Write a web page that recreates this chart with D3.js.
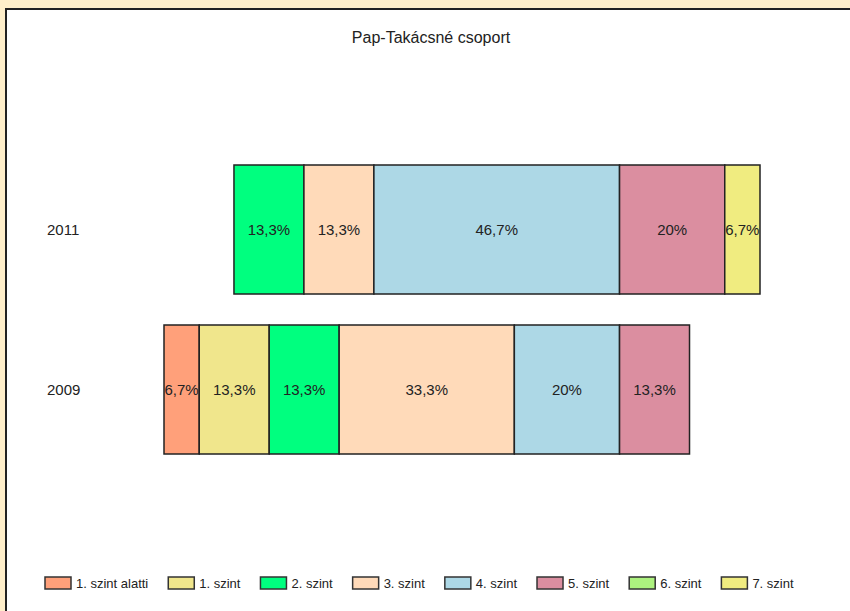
<!DOCTYPE html>
<html>
<head>
<meta charset="utf-8">
<script src="https://cdn.jsdelivr.net/npm/d3@7"></script>
<style>
html,body{margin:0;padding:0;background:#FFEFCA;}
svg{display:block;}
text{font-family:"Liberation Sans",Arial,sans-serif;}
</style>
</head>
<body>
<svg id="chart" width="850" height="611"></svg>
<script>
const title = "Pap-Takácsné csoport";
const years = ["2011", "2009"];
const levels = ["1. szint alatti", "1. szint", "2. szint", "3. szint", "4. szint", "5. szint", "6. szint", "7. szint"];
const colors = ["#FFA07A", "#F0E68C", "#00FF7F", "#FFDAB9", "#ADD8E6", "#DB8EA0", "#ADF27F", "#F0EC80"];
const values2011 = [0, 0, 13.3, 13.3, 46.7, 20, 0, 6.7];
const values2009 = [6.7, 13.3, 13.3, 33.3, 20, 13.3, 0, 0];
const labels2011 = ["", "", "13,3%", "13,3%", "46,7%", "20%", "", "6,7%"];
const labels2009 = ["6,7%", "13,3%", "13,3%", "33,3%", "20%", "13,3%", "", ""];
const splitIndex = 5; // levels before this go left of the centre line

const svg = d3.select("#chart");
svg.append("rect").attr("x", 6).attr("y", 9).attr("width", 850).attr("height", 610)
  .attr("fill", "#fff").attr("stroke", "#222").attr("stroke-width", 2);

svg.append("text").attr("x", 431).attr("y", 43).attr("text-anchor", "middle")
  .attr("font-size", 16).attr("fill", "#222").text(title);

const rows = [
  {year: "2011", values: values2011, labels: labels2011},
  {year: "2009", values: values2009, labels: labels2009}
];
rows.forEach(r => {
  r.segs = r.values.map((v, i) => ({v, i, label: r.labels[i]}));
  const left = d3.sum(r.values.slice(0, splitIndex));
  let start = -left;
  r.segs.forEach(s => { s.x0 = start; s.x1 = start + s.v; start = s.x1; });
});
const minX = d3.min(rows, r => r.segs[0].x0);
const maxX = d3.max(rows, r => r.segs[r.segs.length - 1].x1);
const x = d3.scaleLinear().domain([minX, maxX]).range([164, 760]);
const y = d3.scaleBand().domain(years).range([165, 454]).paddingInner(31 / 160).paddingOuter(0);

const g = svg.append("g");
rows.forEach(r => {
  const row = g.append("g");
  const segs = r.segs.filter(s => s.v > 0);
  row.selectAll("rect").data(segs).join("rect")
    .attr("x", s => x(s.x0)).attr("y", y(r.year))
    .attr("width", s => x(s.x1) - x(s.x0)).attr("height", y.bandwidth())
    .attr("fill", s => colors[s.i]).attr("stroke", "#222").attr("stroke-width", 1.5);
  row.selectAll("text").data(segs).join("text")
    .attr("x", s => (x(s.x0) + x(s.x1)) / 2).attr("y", y(r.year) + y.bandwidth() / 2 + 5)
    .attr("text-anchor", "middle").attr("font-size", 15).attr("fill", "#222")
    .text(s => s.label);
  svg.append("text").attr("x", 47).attr("y", y(r.year) + y.bandwidth() / 2 + 5)
    .attr("font-size", 15).attr("fill", "#222").text(r.year);
});

// legend, laid out by measured text width
const legend = svg.append("g");
let lxPos = 45;
levels.forEach((d, i) => {
  const item = legend.append("g").attr("transform", `translate(${lxPos},577)`);
  item.append("rect").attr("width", 26).attr("height", 12)
    .attr("fill", colors[i]).attr("stroke", "#333").attr("stroke-width", 1.5);
  const t = item.append("text").attr("x", 31).attr("y", 11).attr("font-size", 13)
    .attr("fill", "#222").text(d);
  lxPos += 31 + t.node().getComputedTextLength() + 20;
});
</script>
</body>
</html>
